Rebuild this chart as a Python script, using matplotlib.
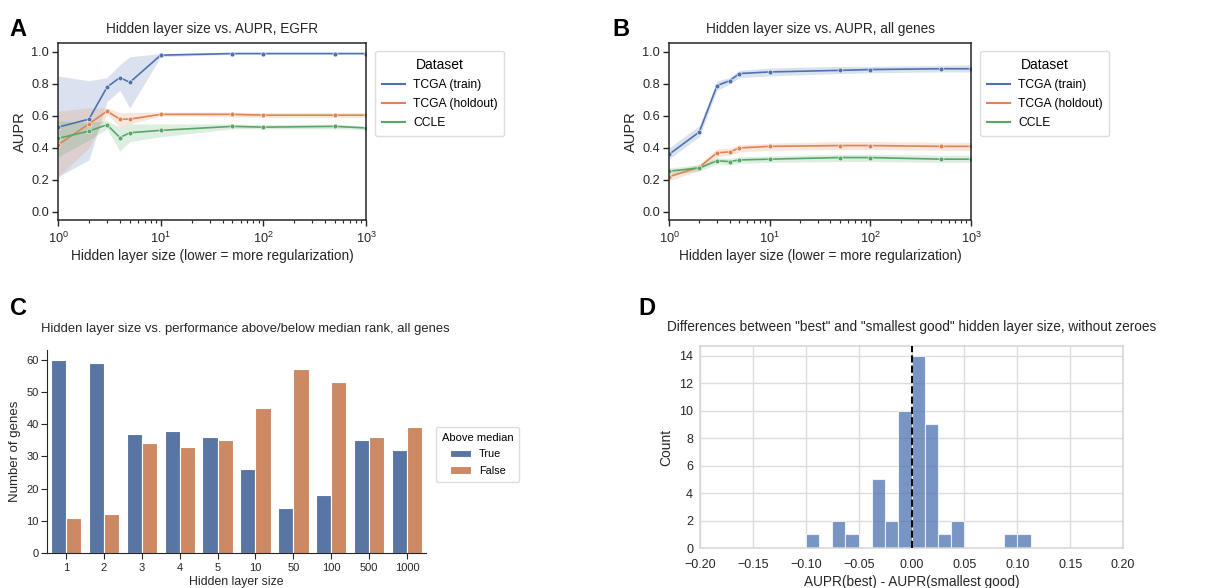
import matplotlib as mpl
mpl.use("Agg")
import matplotlib.pyplot as plt
from matplotlib.lines import Line2D
import numpy as np

plt.rcParams['font.family'] = ['Liberation Sans', 'DejaVu Sans']

# panel A / B data
sizes = [1, 2, 3, 4, 5, 10, 50, 100, 500, 1000]
datasets = ["TCGA (train)", "TCGA (holdout)", "CCLE"]
colors = ["#4c72b0", "#dd8452", "#55a868"]

egfr_mean = {
    "TCGA (train)": [0.53, 0.58, 0.78, 0.84, 0.81, 0.98, 0.99, 0.99, 0.99, 0.99],
    "TCGA (holdout)": [0.42, 0.55, 0.63, 0.58, 0.58, 0.61, 0.61, 0.605, 0.605, 0.605],
    "CCLE": [0.46, 0.505, 0.545, 0.465, 0.495, 0.51, 0.535, 0.53, 0.535, 0.525],
}
egfr_low = {
    "TCGA (train)": [0.22, 0.325, 0.69, 0.76, 0.65, 0.97, 0.985, 0.985, 0.985, 0.985],
    "TCGA (holdout)": [0.22, 0.40, 0.61, 0.53, 0.55, 0.60, 0.595, 0.59, 0.59, 0.59],
    "CCLE": [0.345, 0.45, 0.52, 0.38, 0.44, 0.47, 0.52, 0.52, 0.52, 0.515],
}
egfr_high = {
    "TCGA (train)": [0.85, 0.82, 0.84, 0.92, 0.97, 0.99, 0.995, 0.995, 0.995, 0.995],
    "TCGA (holdout)": [0.63, 0.65, 0.65, 0.62, 0.62, 0.625, 0.625, 0.62, 0.62, 0.62],
    "CCLE": [0.57, 0.56, 0.57, 0.53, 0.55, 0.55, 0.55, 0.545, 0.55, 0.535],
}

all_mean = {
    "TCGA (train)": [0.36, 0.50, 0.79, 0.82, 0.865, 0.875, 0.885, 0.89, 0.895, 0.895],
    "TCGA (holdout)": [0.22, 0.28, 0.37, 0.375, 0.40, 0.41, 0.415, 0.415, 0.41, 0.41],
    "CCLE": [0.255, 0.275, 0.32, 0.315, 0.325, 0.33, 0.34, 0.34, 0.33, 0.33],
}
all_low = {
    "TCGA (train)": [0.33, 0.47, 0.76, 0.80, 0.84, 0.85, 0.865, 0.87, 0.875, 0.875],
    "TCGA (holdout)": [0.195, 0.26, 0.345, 0.355, 0.375, 0.385, 0.39, 0.39, 0.385, 0.385],
    "CCLE": [0.235, 0.255, 0.30, 0.295, 0.305, 0.31, 0.315, 0.315, 0.31, 0.31],
}
all_high = {
    "TCGA (train)": [0.40, 0.54, 0.82, 0.84, 0.885, 0.90, 0.91, 0.91, 0.915, 0.92],
    "TCGA (holdout)": [0.245, 0.30, 0.395, 0.40, 0.42, 0.43, 0.44, 0.44, 0.435, 0.435],
    "CCLE": [0.275, 0.295, 0.34, 0.335, 0.345, 0.35, 0.36, 0.36, 0.355, 0.355],
}

# panel C data
size_labels = ["1", "2", "3", "4", "5", "10", "50", "100", "500", "1000"]
above_true = [60, 59, 37, 38, 36, 26, 14, 18, 35, 32]
above_false = [11, 12, 34, 33, 35, 45, 57, 53, 36, 39]

# panel D data (histogram)
bin_edges = np.arange(-0.1, 0.1126, 0.0125)
bin_counts = [1, 0, 2, 1, 0, 5, 2, 10, 14, 9, 1, 2, 0, 0, 0, 1, 1]

fig = plt.figure(figsize=(12.12, 5.88), dpi=100)
dark = "#262626"


def line_panel(ax, mean, low, high, title):
    for name, c in zip(datasets, colors):
        ax.fill_between(sizes, low[name], high[name], color=c, alpha=0.2, lw=0)
        ax.plot(sizes, mean[name], color=c, lw=1.2, marker="o", ms=3.5,
                mec="white", mew=0.4)
    ax.set_xscale("log")
    ax.set_xlim(1, 1000)
    ax.set_ylim(-0.05, 1.056)
    ax.set_yticks([0.0, 0.2, 0.4, 0.6, 0.8, 1.0])
    ax.set_title(title, fontsize=9.8, color=dark, pad=7)
    ax.set_xlabel("Hidden layer size (lower = more regularization)", fontsize=9.8, color=dark, labelpad=2)
    ax.set_ylabel("AUPR", fontsize=10.5, color=dark, labelpad=3)
    ax.tick_params(labelsize=9.2, colors=dark, direction="out", length=4.5, width=1)
    ax.tick_params(axis="y", pad=2)
    ax.tick_params(which="minor", direction="out", length=2.5, width=0.8, colors=dark)
    for s in ax.spines.values():
        s.set_color(dark)
        s.set_linewidth(1.1)
    handles = [Line2D([], [], color=c, lw=1.5) for c in colors]
    ax.legend(handles, datasets, title="Dataset", loc="upper left",
              bbox_to_anchor=(ax.get_position().x1 + 0.0075, 0.9133),
              bbox_transform=fig.transFigure, borderaxespad=0, fontsize=8.7, title_fontsize=10,
              handlelength=1.9, borderpad=0.55, labelspacing=0.6, handletextpad=0.7,
              framealpha=1, edgecolor="#dddddd")


axA = fig.add_axes([0.0479, 0.6259, 0.2541, 0.3010])
line_panel(axA, egfr_mean, egfr_low, egfr_high, "Hidden layer size vs. AUPR, EGFR")

axB = fig.add_axes([0.552, 0.6259, 0.2492, 0.3010])
line_panel(axB, all_mean, all_low, all_high, "Hidden layer size vs. AUPR, all genes")

# panel C
axC = fig.add_axes([0.0388, 0.0595, 0.3127, 0.3452])
xpos = np.arange(len(size_labels))
w = 0.4
axC.bar(xpos - w / 2, above_true, width=w, color="#5975a4", edgecolor="white", lw=0.8, label="True")
axC.bar(xpos + w / 2, above_false, width=w, color="#cc8963", edgecolor="white", lw=0.8, label="False")
axC.set_xticks(xpos)
axC.set_xticklabels(size_labels)
axC.set_xlim(-0.5, len(size_labels) - 0.5)
axC.set_ylim(0, 63)
axC.set_yticks([0, 10, 20, 30, 40, 50, 60])
axC.spines["top"].set_visible(False)
axC.spines["right"].set_visible(False)
for s in ["left", "bottom"]:
    axC.spines[s].set_color(dark)
axC.tick_params(labelsize=8, colors=dark, length=4)
axC.tick_params(axis="y", pad=2)
axC.set_xlabel("Hidden layer size", fontsize=8.8, color=dark, labelpad=2)
axC.set_ylabel("Number of genes", fontsize=9.5, color=dark, labelpad=4)
titleC = axC.set_title("Hidden layer size vs. performance above/below median rank, all genes",
                       fontsize=9.4, color=dark, pad=13)
titleC.set_x(0.524)
axC.legend(title="Above median", loc="upper left", bbox_to_anchor=(0.3597, 0.2738),
           bbox_transform=fig.transFigure, borderaxespad=0, fontsize=7.8, title_fontsize=8,
           handlelength=2.0, borderpad=0.55, labelspacing=0.6, handletextpad=0.7,
           framealpha=1, edgecolor="#dddddd")

# panel D
axD = fig.add_axes([0.5776, 0.0680, 0.3490, 0.3435])
centers = (bin_edges[:-1] + bin_edges[1:]) / 2
axD.hist(centers, bins=bin_edges, weights=bin_counts, color="#4c72b0", alpha=0.75,
         edgecolor="white", lw=0.8, zorder=2)
axD.axvline(0, color="black", ls="--", lw=1.4, zorder=3)
axD.set_xlim(-0.2, 0.2)
axD.set_ylim(0, 14.7)
axD.set_xticks(np.arange(-0.2, 0.201, 0.05))
axD.set_xticklabels(["\u22120.20", "\u22120.15", "\u22120.10", "\u22120.05", "0.00",
                     "0.05", "0.10", "0.15", "0.20"])
axD.set_yticks(range(0, 15, 2))
axD.grid(True, color="#dcdcdc", lw=1, zorder=0)
axD.set_axisbelow(True)
for s in axD.spines.values():
    s.set_color("#d5d5d5")
    s.set_linewidth(1.1)
axD.tick_params(length=0, labelsize=9, colors=dark, pad=5)
axD.tick_params(axis="x", pad=8)
axD.set_xlabel("AUPR(best) - AUPR(smallest good)", fontsize=9.8, color=dark, labelpad=3)
axD.set_ylabel("Count", fontsize=10, color=dark)
axD.set_title('Differences between "best" and "smallest good" hidden layer size, without zeroes',
              fontsize=9.8, color=dark, pad=11)

# panel letters
for letter, x, y in [("A", 0.008, 0.95), ("B", 0.505, 0.95), ("C", 0.008, 0.476), ("D", 0.527, 0.476)]:
    fig.text(x, y, letter, fontsize=17, fontweight="bold", ha="left", va="center")

fig.savefig("out.png", dpi=100)
